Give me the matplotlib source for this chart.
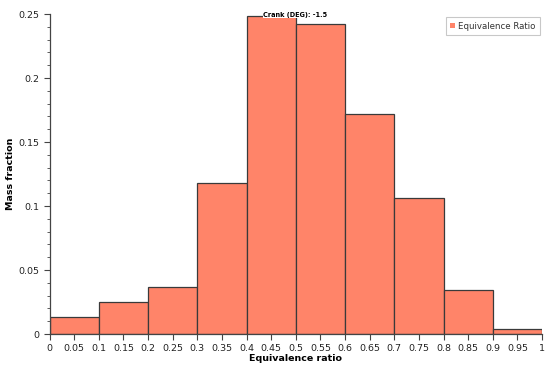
import numpy as np
import matplotlib.pyplot as plt
from matplotlib.ticker import MultipleLocator

# Histogram bins (equivalence ratio) and mass fraction per bin
bin_edges = [0.0, 0.1, 0.2, 0.3, 0.4, 0.5, 0.6, 0.7, 0.8, 0.9, 1.0]
mass_fraction = [0.013, 0.0252, 0.037, 0.118, 0.2487, 0.2424, 0.172, 0.106, 0.0346, 0.0036]
x_ticks = [0, 0.05, 0.1, 0.15, 0.2, 0.25, 0.3, 0.35, 0.4, 0.45, 0.5,
           0.55, 0.6, 0.65, 0.7, 0.75, 0.8, 0.85, 0.9, 0.95, 1]
y_ticks = [0, 0.05, 0.1, 0.15, 0.2, 0.25]

fig = plt.figure(figsize=(5.5, 3.71), dpi=100)
ax = fig.add_axes([0.09, 0.0997, 0.8955, 0.8623])

lefts = np.array(bin_edges[:-1])
widths = np.diff(bin_edges)
ax.bar(lefts, mass_fraction, width=widths, align='edge', color='#ff8469',
       edgecolor='#3a3a3a', linewidth=0.9, label='Equivalence Ratio')

ax.set_xlim(0, 1)
ax.set_ylim(0, 0.25)
ax.set_xticks(x_ticks)
ax.set_xticklabels([f"{t:g}" for t in x_ticks])
ax.set_yticks(y_ticks)
ax.set_yticklabels([f"{t:g}" for t in y_ticks])
ax.yaxis.set_minor_locator(MultipleLocator(0.01))

for s in ['top', 'right']:
    ax.spines[s].set_visible(False)
for s in ['left', 'bottom']:
    ax.spines[s].set_color('#444444')
    ax.spines[s].set_linewidth(0.9)

ax.tick_params(axis='both', which='major', labelsize=6.8, colors='#444444',
               labelcolor='#222222', length=4, width=0.8)
ax.tick_params(axis='y', which='minor', length=2.5, width=0.6, colors='#444444')
ax.tick_params(axis='x', pad=3)

ax.set_xlabel('Equivalence ratio', fontsize=6.8, fontweight='bold', labelpad=1)
ax.set_ylabel('Mass fraction', fontsize=6.8, fontweight='bold', labelpad=2)

ax.text(0.499, 0.998, 'Crank (DEG): -1.5', transform=ax.transAxes, ha='center',
        va='center', fontsize=4.7, fontweight='bold',
        bbox=dict(facecolor='white', edgecolor='none', pad=0.3))

leg = ax.legend(loc='upper right', bbox_to_anchor=(0.995, 0.99), fontsize=6.2,
                frameon=True, fancybox=False, handlelength=0.6, handleheight=0.6,
                handletextpad=0.3, borderpad=0.5, borderaxespad=0.0)
leg.get_frame().set_edgecolor('#bbbbbb')
leg.get_frame().set_linewidth(0.8)
for t in leg.get_texts():
    t.set_color('#333333')
for h in leg.legend_handles:
    h.set_edgecolor('none')

fig.savefig('out.png', dpi=100)
